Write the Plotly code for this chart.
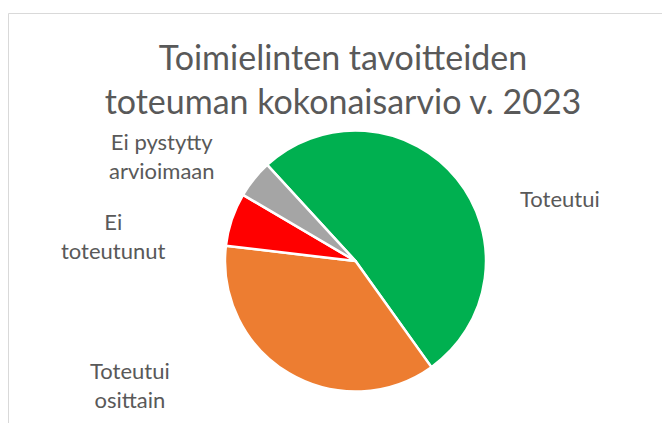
import plotly.graph_objects as go

# Data
categories = ["Toteutui", "Toteutui osittain", "Ei toteutunut", "Ei pystytty arvioimaan"]
display_labels = ["Toteutui", "Toteutui<br>osittain", "Ei<br>toteutunut", "Ei pystytty<br>arvioimaan"]
shares = [51.9, 36.7, 6.6, 4.7]
colors = ["#00B050", "#ED7D31", "#FF0000", "#A5A5A5"]
title_text = "Toimielinten tavoitteiden<br>toteuman kokonaisarvio v. 2023"

W, H = 670, 423
OFF = 8  # page body margin

def px_x(px):
    return (px - OFF) / W

def px_y(py):
    return 1 - (py - OFF) / H

# label centre positions in screen pixels (layout)
label_pos = [(560, 198), (130, 385), (113, 236), (162, 156)]

fig = go.Figure()
fig.add_trace(go.Pie(
    labels=categories,
    values=shares,
    sort=False,
    direction="clockwise",
    rotation=-42.6,
    marker=dict(colors=colors, line=dict(color="white", width=2.5)),
    textinfo="none",
    hoverinfo="label+percent",
    showlegend=False,
    domain=dict(x=[px_x(225), px_x(486)], y=[px_y(391.5), px_y(130.5)]),
))

annotations = []
for txt, (px, py) in zip(display_labels, label_pos):
    annotations.append(dict(
        text=txt, x=px_x(px), y=px_y(py), xref="paper", yref="paper",
        xanchor="center", yanchor="middle", showarrow=False,
        font=dict(family="Lato", size=22, color="#595959"),
    ))

fig.update_layout(
    width=W, height=H,
    margin=dict(l=0, r=0, t=0, b=0),
    paper_bgcolor="white",
    plot_bgcolor="white",
    title=dict(
        text=title_text, x=px_x(343), xanchor="center",
        y=px_y(70), yanchor="middle",
        font=dict(family="Lato", size=34, color="#595959"),
    ),
    annotations=annotations,
    shapes=[dict(type="rect", xref="paper", yref="paper",
                 x0=px_x(8.5), x1=1.05, y0=-0.05, y1=px_y(13.5),
                 line=dict(color="#D9D9D9", width=1), fillcolor="rgba(0,0,0,0)")],
)

fig.write_html("out.html")
